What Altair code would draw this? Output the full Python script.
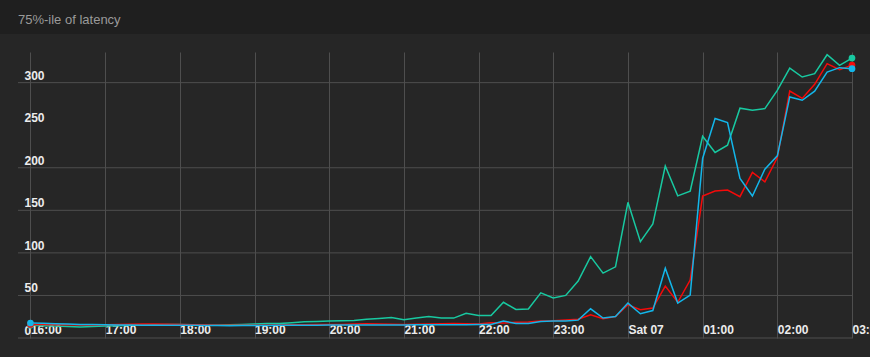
import json
import altair as alt
import pandas as pd

TITLE = "75%-ile of latency"
SERIES = ["series A", "series B", "series C"]
COLORS = ["#18c9a1", "#f50a0a", "#13b6ea"]

# sample times: minutes after 16:00, one sample every 10 minutes (16:00 .. 03:00)
STEP_MIN = 10
X_LABELS = ["16:00", "17:00", "18:00", "19:00", "20:00", "21:00", "22:00", "23:00",
            "Sat 07", "01:00", "02:00", "03:00"]

green = [15, 14.5, 14, 13.5, 13, 13.5, 14, 14.5, 15, 15, 15.5, 16, 16, 15.5, 15, 15,
         15.5, 16, 16.5, 17, 17, 18, 19, 19.5, 20, 20.3, 20.6, 22, 23, 24, 21.4, 23.5,
         25.3, 23.4, 23.4, 29, 26.5, 26.5, 42, 33.5, 34, 53, 47, 50, 67, 95.6, 76.2,
         83.6, 159.4, 113.2, 134, 202, 167, 172.6, 237, 218, 226.5, 270, 267.5, 269.5,
         291, 317, 306.6, 310.5, 332.8, 320.3, 328.9]
red = [16, 15.8, 15.5, 15.5, 15.3, 15.3, 15.5, 16, 16.3, 16.5, 16.5, 16.3, 16, 15.5,
       15.3, 15, 15, 15, 15, 15, 15.3, 15.5, 15.5, 15.8, 16, 16, 16.5, 16.8, 16.5, 16.2,
       16, 16.3, 16.5, 16.8, 17, 16.8, 16.5, 18, 17.5, 18.5, 18.7, 20, 20.3, 21.1, 22,
       27.3, 22.6, 25.3, 39, 33.2, 35.2, 61, 42, 68, 166.8, 172.6, 173.8, 166, 194.5,
       183.5, 212, 290.2, 281.5, 298, 322.3, 315.2, 320.6]
blue = [17.6, 17.2, 16.8, 16.4, 16, 15.8, 15.5, 15.3, 15.2, 15, 15, 15, 15, 15, 14.8,
        14.6, 14.5, 14.6, 14.8, 14.8, 15, 15, 15, 15.1, 15.2, 15.2, 15.2, 15.3, 15.3,
        15.4, 15.4, 15.5, 15.5, 15.5, 15.5, 15.6, 15.8, 16, 20, 17, 17, 19.5, 20, 20, 21,
        34.3, 23.4, 25.3, 41, 28.5, 32.3, 82, 41, 50.5, 210.9, 257.8, 253.1, 187.5,
        166.8, 198.4, 214, 283.2, 279.3, 290, 312.4, 317.6, 316.4]

Y_TICKS = [0, 50, 100, 150, 200, 250, 300]
Y_GRID = [0, 50, 100, 150, 200, 300]

GRID = "#4e4e4e"
LABEL = "#ececec"
FONT = "Liberation Sans"

minutes = [i * STEP_MIN for i in range(len(green))]
all_vals = [green, red, blue]

frames = []
for name, vals in zip(SERIES, all_vals):
    frames.append(pd.DataFrame({"minute": minutes, "series": name, "value": vals}))
ends = pd.concat([f.iloc[[0, -1]] for f in frames], ignore_index=True)

x_scale = alt.Scale(domain=[-10, 660], nice=False, zero=False)
y_scale = alt.Scale(domain=[0, 336], nice=False, zero=True)

x_axis = alt.Axis(
    title=None,
    values=[h * 60 for h in range(len(X_LABELS))],
    labelExpr=json.dumps(X_LABELS) + "[round(datum.value / 60)]",
    labelAlign="left", labelBaseline="alphabetic", labelPadding=-4.3,
    ticks=False, tickSize=0, domain=False, grid=True, gridColor=GRID, gridWidth=1,
    labelFlush=False, labelOverlap=False, labelColor=LABEL, labelFont=FONT,
    labelFontSize=12, labelFontWeight="bold",
)
y_axis = alt.Axis(
    title=None, values=Y_TICKS,
    labelAlign="left", labelBaseline="alphabetic", labelPadding=-6, labelOffset=-3.6,
    ticks=False, tickSize=0, domain=False, grid=False,
    labelFlush=False, labelOverlap=False, labelColor=LABEL, labelFont=FONT,
    labelFontSize=12, labelFontWeight="bold",
)

X = alt.X("minute:Q", scale=x_scale, axis=x_axis)
Y = alt.Y("value:Q", scale=y_scale, axis=y_axis)
color = alt.Color("series:N", scale=alt.Scale(domain=SERIES, range=COLORS), legend=None)

title_bar = alt.Chart(pd.DataFrame({"k": [0]})).mark_rect(color="#1f1f1f").encode(
    x=alt.value(-18), x2=alt.value(852), y=alt.value(-52), y2=alt.value(-18)
)
title_text = alt.Chart(pd.DataFrame({"t": [TITLE]})).mark_text(
    align="left", baseline="alphabetic", font=FONT, fontSize=13, color="#9a9a9a"
).encode(text="t:N", x=alt.value(0), y=alt.value(-28.5))

grid = alt.Chart(pd.DataFrame({"value": Y_GRID})).mark_rule(color=GRID, strokeWidth=1).encode(y=Y)

line_layers = [
    alt.Chart(f).mark_line(strokeWidth=1.5, interpolate="linear").encode(x=X, y=Y, color=color)
    for f in frames
]
dots = alt.Chart(ends).mark_circle(size=45, opacity=1).encode(x=X, y=Y, color=color)

chart = alt.layer(title_bar, title_text, grid, *line_layers, dots).properties(
    width=834, height=286,
    autosize=alt.AutoSizeParams(type="none"),
    padding={"left": 18, "top": 52, "right": 18, "bottom": 19},
    background="#262626",
).configure_view(strokeWidth=0)

chart.save("out.html", embed_options={"renderer": "svg", "actions": False})
